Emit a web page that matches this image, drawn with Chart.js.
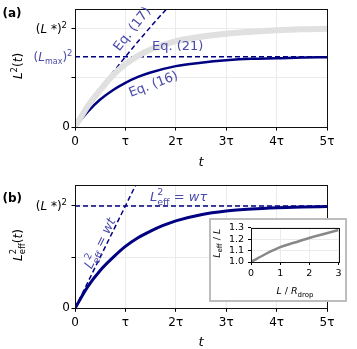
<!DOCTYPE html>
<html><head><meta charset="utf-8">
<script src="https://cdn.jsdelivr.net/npm/chart.js@4.4.0/dist/chart.umd.min.js"></script>
<style>
html,body{margin:0;padding:0;background:#fff;}
#wrap{position:relative;width:357px;height:349px;overflow:hidden;background:#fff;}
canvas{position:absolute;}
</style></head><body>
<div id="wrap">
<canvas id="ca" width="357" height="175" style="left:0;top:0;width:357px;height:175px"></canvas>
<canvas id="cb" width="357" height="174" style="left:0;top:175px;width:357px;height:174px"></canvas>
<canvas id="ci" width="138" height="84" style="left:209px;top:218px;width:138px;height:84px"></canvas>
</div>
<script>
// ---------- data ----------
const tTicks = [0, 1, 2, 3, 4, 5];
const tTickLabels = ['0', 'τ', '2τ', '3τ', '4τ', '5τ'];
const LSTAR2 = 2;          // (L*)^2
const LMAX2 = 1.43;        // (Lmax)^2
const YMAX = 2.41;
// panel (a)
const tA16 = [0, 0.25, 0.5, 0.75, 1, 1.25, 1.5, 2, 2.5, 3, 3.5, 4, 4.5, 5];
const vA16 = [0, 0.31, 0.56, 0.75, 0.90, 1.02, 1.11, 1.24, 1.31, 1.36, 1.39, 1.40, 1.415, 1.42];
const tA21 = [0, 0.25, 0.5, 0.75, 1, 1.25, 1.5, 2, 2.5, 3, 3.5, 4, 4.5, 5];
const vA21 = [0, 0.42, 0.75, 1.05, 1.28, 1.45, 1.58, 1.75, 1.84, 1.90, 1.94, 1.97, 1.99, 2.0];
const tA17 = [0, 0.25, 0.5, 0.75, 1, 1.25, 1.5, 1.75, 2];
const vA17 = [0, 0.43, 0.78, 1.11, 1.43, 1.74, 2.04, 2.33, 2.61];
// panel (b)
const tB = [0, 0.25, 0.5, 0.75, 1, 1.25, 1.5, 1.75, 2, 2.5, 3, 3.5, 4, 4.5, 5];
const vB = [0, 0.42, 0.74, 0.99, 1.21, 1.38, 1.51, 1.62, 1.71, 1.83, 1.90, 1.94, 1.965, 1.98, 1.99];
const tBW = [0, 1.25];
const vBW = [0, 2.5];
// inset
const xInset = [0, 0.5, 1, 1.5, 2, 2.5, 3];
const yInset = [1.0, 1.07, 1.13, 1.17, 1.21, 1.245, 1.28];
const inXTicks = [0, 1, 2, 3];
const inYTicks = [1.0, 1.1, 1.2, 1.3];

// ---------- styles ----------
const NAVY = '#000080';
const LBL = '#4a4aaa';
const GRID = '#ebebeb';
const FAM = '"DejaVu Sans"';
const S = 12;
const ES = 13; // annotation size

function pts(xs, ys) { return xs.map((x, i) => ({x: x, y: ys[i]})); }
function fnt(p) { return (p.it ? 'italic ' : '') + (p.b ? 'bold ' : '') + (p.s || S) + 'px ' + FAM; }
function pw(ctx, p) {
  if (p.stack) return Math.max(pw(ctx, p.stack[0]), pw(ctx, p.stack[1]));
  ctx.font = fnt(p); return ctx.measureText(p.t).width;
}
function drawRich(ctx, parts, x, y, align, rot, color, base) {
  base = base || S;
  ctx.save(); ctx.translate(x, y); ctx.rotate(rot || 0);
  ctx.fillStyle = color; ctx.textBaseline = 'alphabetic'; ctx.textAlign = 'left';
  let w = parts.reduce((a, p) => a + pw(ctx, p), 0);
  let cx = align === 'left' ? 0 : (align === 'right' ? -w : -w / 2);
  const by = base * 0.36;
  for (const p of parts) {
    const list = p.stack ? p.stack : [p];
    for (const q of list) { ctx.font = fnt(q); ctx.fillText(q.t, cx, by + (q.dy || 0)); }
    cx += pw(ctx, p);
  }
  ctx.restore();
}
const SUP = 8.5;
const LSTAR_P = [{t:'('}, {t:'L', it:1}, {t:' *', dy:-0.5}, {t:')'}, {t:'2', s:SUP, dy:-5}];
const LMAX_P = [{t:'('}, {t:'L', it:1}, {t:'max', s:8, dy:3}, {t:')'}, {t:'2', s:SUP, dy:-5}];
const YA_P = [{t:'L', it:1}, {t:'2', s:SUP, dy:-5}, {t:'('}, {t:'t', it:1}, {t:')'}];
const YB_P = [{t:'L', it:1}, {stack:[{t:'2', s:SUP, dy:-5.5}, {t:'eff', s:SUP, dy:3}]}, {t:'('}, {t:'t', it:1}, {t:')'}];
const ESUB = 9.5;
const WT_P = [{t:'L', it:1, s:ES}, {stack:[{t:'2', s:ESUB, dy:-6}, {t:'eff', s:ESUB, dy:3.5}]}, {t:' = ', s:ES}, {t:'wt', it:1, s:ES}];
const WTAU_P = [{t:'L', it:1, s:ES}, {stack:[{t:'2', s:ESUB, dy:-6}, {t:'eff', s:ESUB, dy:3.5}]}, {t:' = ', s:ES}, {t:'wτ', it:1, s:ES}];

function frame(chart) {
  const a = chart.chartArea, ctx = chart.ctx;
  ctx.save(); ctx.strokeStyle = '#111'; ctx.lineWidth = 1;
  ctx.strokeRect(Math.round(a.left) + 0.5, Math.round(a.top) + 0.5, Math.round(a.right - a.left), Math.round(a.bottom - a.top));
  ctx.restore();
}

function xScale(h) {
  return {
    type: 'linear', min: 0, max: 5,
    afterBuildTicks: s => { s.ticks = tTicks.map(v => ({value: v})); },
    afterFit: s => { s.height = h; },
    ticks: { callback: v => tTickLabels[tTicks.indexOf(v)], font: {family: 'DejaVu Sans', size: S}, color: '#000', padding: 4, maxRotation: 0, autoSkip: false },
    grid: { color: GRID, tickColor: '#000', tickLength: 3.5, tickWidth: 1 },
    border: { display: false }
  };
}
function yScale(ticks) {
  return {
    type: 'linear', min: 0, max: YMAX,
    afterBuildTicks: s => { s.ticks = ticks.map(v => ({value: v})); },
    afterFit: s => { s.width = 75; },
    ticks: { callback: v => (v === 0 ? '0' : ''), font: {family: 'DejaVu Sans', size: S}, color: '#000', padding: 1.5, autoSkip: false },
    grid: { color: GRID, tickColor: '#000', tickLength: 3.5, tickWidth: 1 },
    border: { display: false }
  };
}
const lineBase = { pointRadius: 0, fill: false, clip: 0, cubicInterpolationMode: 'monotone' };

// ---------- panel (a) ----------
new Chart(document.getElementById('ca'), {
  type: 'line',
  data: { datasets: [
    Object.assign({}, lineBase, { label: 'Eq. (21)', data: pts(tA21, vA21), borderColor: '#e0e0e0', borderWidth: 6 }),
    Object.assign({}, lineBase, { label: 'Lmax', data: pts([0, 5], [LMAX2, LMAX2]), borderColor: NAVY, borderWidth: 1.5, borderDash: [5, 3] }),
    Object.assign({}, lineBase, { label: 'Eq. (17)', data: pts(tA17, vA17), borderColor: NAVY, borderWidth: 1.5, borderDash: [5, 3] }),
    Object.assign({}, lineBase, { label: 'Eq. (16)', data: pts(tA16, vA16), borderColor: NAVY, borderWidth: 2.5 })
  ]},
  options: {
    responsive: false, animation: false, devicePixelRatio: 1, parsing: false,
    layout: { padding: { left: 0, top: 4, right: 30, bottom: 0 } },
    plugins: { legend: { display: false }, tooltip: { enabled: false } },
    scales: { x: xScale(48), y: yScale([0, 1, LSTAR2]) }
  },
  plugins: [{ id: 'deco', afterDraw(chart) {
    frame(chart);
    const ctx = chart.ctx, ys = chart.scales.y;
    drawRich(ctx, [{t:'(a)', b:1}], 2.5, 12.5, 'left', 0, '#000');
    drawRich(ctx, LSTAR_P, 67, ys.getPixelForValue(LSTAR2), 'right', 0, '#000');
    drawRich(ctx, LMAX_P, 72.5, ys.getPixelForValue(LMAX2), 'right', 0, LBL);
    drawRich(ctx, YA_P, 17.5, 66, 'center', -Math.PI / 2, '#000');
    drawRich(ctx, [{t:'t', it:1, s:13}], 201, 161, 'center', 0, '#000', 13);
    drawRich(ctx, [{t:'Eq. (17)', s:ES}], 131.5, 28.5, 'center', -52 * Math.PI / 180, LBL, ES);
    drawRich(ctx, [{t:'Eq. (21)', s:ES}], 152, 45, 'left', 0, LBL, ES);
    drawRich(ctx, [{t:'Eq. (16)', s:ES}], 153, 83.5, 'center', -21 * Math.PI / 180, LBL, ES);
  }}]
});

// ---------- panel (b) ----------
new Chart(document.getElementById('cb'), {
  type: 'line',
  data: { datasets: [
    Object.assign({}, lineBase, { label: 'w tau', data: pts([0, 5], [LSTAR2, LSTAR2]), borderColor: NAVY, borderWidth: 1.5, borderDash: [5, 3] }),
    Object.assign({}, lineBase, { label: 'w t', data: pts(tBW, vBW), borderColor: NAVY, borderWidth: 1.5, borderDash: [5, 3] }),
    Object.assign({}, lineBase, { label: 'Leff2', data: pts(tB, vB), borderColor: NAVY, borderWidth: 3 })
  ]},
  options: {
    responsive: false, animation: false, devicePixelRatio: 1, parsing: false,
    layout: { padding: { left: 0, top: 10, right: 30, bottom: 0 } },
    plugins: { legend: { display: false }, tooltip: { enabled: false } },
    scales: { x: xScale(40.7), y: yScale([0, 1, LSTAR2]) }
  },
  plugins: [{ id: 'deco', afterDraw(chart) {
    frame(chart);
    const ctx = chart.ctx, ys = chart.scales.y;
    drawRich(ctx, [{t:'(b)', b:1}], 2.5, 22.5, 'left', 0, '#000');
    drawRich(ctx, LSTAR_P, 67, ys.getPixelForValue(LSTAR2), 'right', 0, '#000');
    drawRich(ctx, YB_P, 17.5, 70, 'center', -Math.PI / 2, '#000');
    drawRich(ctx, [{t:'t', it:1, s:13}], 201, 166.7, 'center', 0, '#000', 13);
    drawRich(ctx, WT_P, 99.5, 68, 'center', -63.5 * Math.PI / 180, LBL, ES);
    drawRich(ctx, WTAU_P, 150, 21.5, 'left', 0, LBL, ES);
  }}]
});

// ---------- inset ----------
const IS = 9.5;
new Chart(document.getElementById('ci'), {
  type: 'line',
  data: { datasets: [
    Object.assign({}, lineBase, { label: 'Leff/L', data: pts(xInset, yInset), borderColor: '#888888', borderWidth: 2.5 })
  ]},
  options: {
    responsive: false, animation: false, devicePixelRatio: 1, parsing: false,
    layout: { padding: { left: 0, top: 8.7, right: 8.5, bottom: 0 } },
    plugins: { legend: { display: false }, tooltip: { enabled: false } },
    scales: {
      x: { type: 'linear', min: 0, max: 3,
        afterBuildTicks: s => { s.ticks = inXTicks.map(v => ({value: v})); },
        afterFit: s => { s.height = 40; },
        ticks: { callback: v => String(v), font: {family: 'DejaVu Sans', size: IS}, color: '#000', padding: 3, maxRotation: 0, autoSkip: false },
        grid: { color: GRID, tickColor: '#000', tickLength: 3, tickWidth: 1 }, border: { display: false } },
      y: { type: 'linear', min: 1.0, max: 1.3,
        afterBuildTicks: s => { s.ticks = inYTicks.map(v => ({value: v})); },
        afterFit: s => { s.width = 42; },
        ticks: { callback: v => v.toFixed(1), font: {family: 'DejaVu Sans', size: IS}, color: '#000', padding: 4, autoSkip: false },
        grid: { color: GRID, tickColor: '#000', tickLength: 3, tickWidth: 1 }, border: { display: false } }
    }
  },
  plugins: [{ id: 'bg', beforeDraw(chart) {
    const ctx = chart.ctx;
    ctx.save(); ctx.fillStyle = '#fff'; ctx.fillRect(0, 0, chart.width, chart.height);
    ctx.strokeStyle = '#bdbdbd'; ctx.lineWidth = 2; ctx.strokeRect(1, 1, chart.width - 2, chart.height - 2);
    ctx.restore();
  }, afterDraw(chart) {
    frame(chart);
    const ctx = chart.ctx;
    drawRich(ctx, [{t:'L', it:1, s:IS}, {t:'eff', s:7, dy:2.5}, {t:' / ', s:IS}, {t:'L', it:1, s:IS}], 7.5, 25.3, 'center', -Math.PI / 2, '#000', IS);
    drawRich(ctx, [{t:'L', it:1, s:IS}, {t:' / ', s:IS}, {t:'R', it:1, s:IS}, {t:'drop', s:7, dy:2.5}], 86, 73, 'center', 0, '#000', IS);
  }}]
});
</script>
</body></html>
